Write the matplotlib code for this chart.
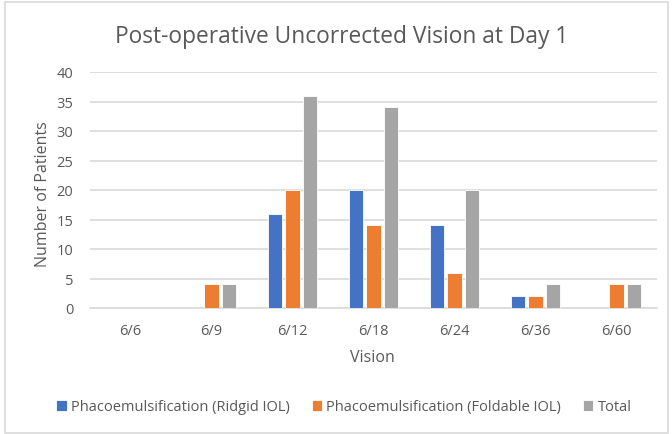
import numpy as np
import matplotlib
matplotlib.use("Agg")
import matplotlib.pyplot as plt
from matplotlib.patches import Rectangle

plt.rcParams["font.family"] = ["Open Sans", "DejaVu Sans"]

# data
categories = ["6/6", "6/9", "6/12", "6/18", "6/24", "6/36", "6/60"]
ridgid = [0, 0, 16, 20, 14, 2, 0]
foldable = [0, 4, 20, 14, 6, 2, 4]
total = [0, 4, 36, 34, 20, 4, 4]

series = [
    ("Phacoemulsification (Ridgid IOL)", ridgid, "#4472C4"),
    ("Phacoemulsification (Foldable IOL)", foldable, "#ED7D31"),
    ("Total", total, "#A5A5A5"),
]

text_col = "#595959"
grid_col = "#D9D9D9"

fig = plt.figure(figsize=(6.72, 4.35), dpi=100)
ax = fig.add_axes([90 / 672, 1 - 309 / 435, 567 / 672, 236 / 435])

x = np.arange(len(categories))
width = 0.173
step = 0.222
for i, (name, vals, color) in enumerate(series):
    ax.bar(x + (i - 1) * step, vals, width, color=color, label=name,
           edgecolor="white", linewidth=0.6, zorder=3)

ax.set_xlim(-0.5, len(categories) - 0.5)
ax.set_ylim(0, 40)
ax.set_yticks(range(0, 41, 5))
ax.set_xticks(x)
ax.set_xticklabels(categories)
ax.grid(axis="y", color=grid_col, linewidth=1.2, zorder=0)
for s in ["top", "right", "left"]:
    ax.spines[s].set_visible(False)
ax.spines["bottom"].set_color(grid_col)
ax.spines["bottom"].set_linewidth(1.2)
ax.tick_params(axis="both", length=0, colors=text_col, labelsize=10.5)
ax.tick_params(axis="x", pad=11)
ax.tick_params(axis="y", pad=12)

ax.set_xlabel("Vision", color=text_col, fontsize=11.5)
ax.set_ylabel("Number of Patients", color=text_col, fontsize=11.5)
ax.xaxis.set_label_coords((372 - 90) / 567, (309 - 358) / 236)
ax.yaxis.set_label_coords((43 - 90) / 567, (309 - 194) / 236)
ax.xaxis.label.set_va("center")
ax.yaxis.label.set_va("center")

fig.text(342 / 672, 1 - 37 / 435, "Post-operative Uncorrected Vision at Day 1",
         ha="center", va="center", fontsize=16.4, color=text_col)

fig.legend(loc="center", bbox_to_anchor=(344 / 672, 1 - 408 / 435), ncol=3,
           frameon=False, fontsize=10.5, handlelength=0.7, handleheight=0.7,
           handletextpad=0.3, columnspacing=1.5, labelcolor=text_col)

fig.patches.append(Rectangle((5 / 672, 1 / 435), 663 / 672, 431 / 435,
                             transform=fig.transFigure, fill=False,
                             edgecolor=grid_col, linewidth=1.2))

fig.savefig("out.png", dpi=100, facecolor="white")
